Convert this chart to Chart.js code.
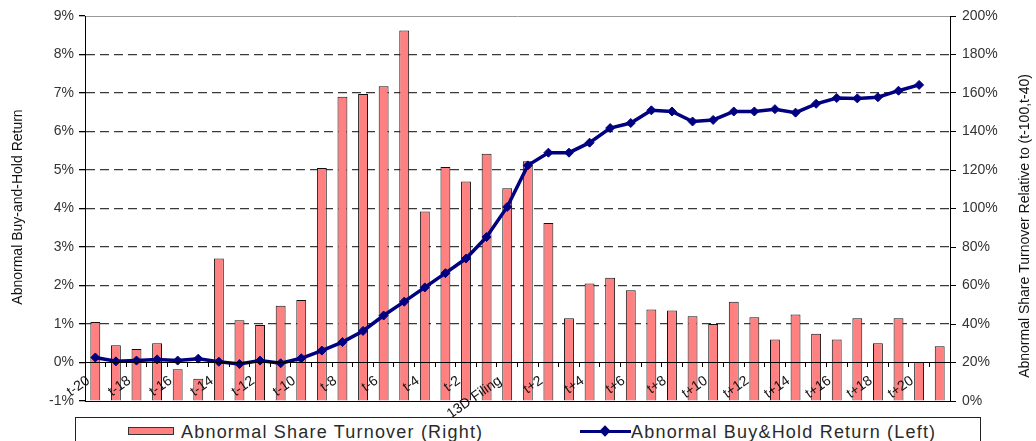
<!DOCTYPE html>
<html>
<head>
<meta charset="utf-8">
<script src="https://cdn.jsdelivr.net/npm/chart.js@4.4.1/dist/chart.umd.min.js"></script>
<style>
  html, body { margin: 0; padding: 0; background: #fff; }
  #wrap { position: relative; width: 1036px; height: 441px; overflow: hidden; }
  #legend {
    position: absolute; left: 75px; top: 417px; width: 904px; height: 40px;
    border: 1px solid #222; background: #fff;
    font-family: 'Liberation Sans', Arial, sans-serif; font-size: 18px; letter-spacing: 1.2px; color: #2a2a2a;
  }
  .item { position: absolute; top: 4px; white-space: nowrap; }
  .barsw { display: inline-block; width: 44px; height: 6px; background: #FF8080; border: 1px solid #333; vertical-align: middle; margin-right: 7px; position: relative; top: -2px; }
  .linesw { display: inline-block; width: 51px; height: 3px; background: #000080; vertical-align: middle; position: relative; top: -2px; }
  .linesw:after { content: ''; position: absolute; left: 21px; top: -3px; width: 8px; height: 8px; background: #000080; transform: rotate(45deg); }
</style>
</head>
<body>
<div id="wrap">
  <canvas id="chart" width="1036" height="441"></canvas>
  <div id="legend">
    <div class="item" style="left: 52px;"><span class="barsw"></span>Abnormal Share Turnover (Right)</div>
    <div class="item" style="left: 504px;"><span class="linesw"></span>Abnormal Buy&amp;Hold Return (Left)</div>
  </div>
</div>
<script>
// event window labels
const labels = [];
for (let i = 20; i >= 1; i--) labels.push('t-' + i);
labels.push('13D Filing');
for (let i = 1; i <= 21; i++) labels.push('t+' + i);

// abnormal share turnover, % of (t-100,t-40) level (right axis)
const turnover = [
  41, 29, 27, 30, 16.5, 11.5, 74, 42, 39.5, 49.5,
  52.5, 121, 158, 159.5, 163.5, 192.5, 98.5, 121.5, 114, 128.5,
  110.5, 124.5, 92.5, 43, 61, 64, 57.5, 47.5, 47, 44,
  40, 51.5, 43.5, 32, 45, 35, 32, 43, 30, 43,
  20.3, 28.5
];

// abnormal buy-and-hold return, % (left axis)
const bhar = [
  0.13, 0.03, 0.05, 0.08, 0.05, 0.10, 0.02, -0.04, 0.05, -0.02,
  0.11, 0.31, 0.53, 0.82, 1.22, 1.58, 1.95, 2.32, 2.70, 3.26,
  4.04, 5.12, 5.45, 5.45, 5.71, 6.09, 6.22, 6.55, 6.52, 6.26,
  6.30, 6.52, 6.52, 6.58, 6.49, 6.72, 6.87, 6.86, 6.89, 7.06,
  7.21, null
];

const leftTitle = 'Abnormal Buy-and-Hold Return';
const rightTitle = 'Abnormal Share Turnover Relative to (t-100,t-40)';

Chart.defaults.font.family = "'Liberation Sans', Arial, sans-serif";
Chart.defaults.color = '#333';

const axisTitles = {
  id: 'axisTitles',
  afterDraw(chart) {
    const ctx = chart.ctx;
    ctx.save();
    ctx.font = "14px 'Liberation Sans', Arial, sans-serif";
    ctx.fillStyle = '#111';
    ctx.textAlign = 'center';
    ctx.textBaseline = 'middle';
    ctx.translate(18, 207);
    ctx.rotate(-Math.PI / 2);
    ctx.fillText(leftTitle, 0, 0);
    ctx.restore();
    ctx.save();
    ctx.font = "14px 'Liberation Sans', Arial, sans-serif";
    ctx.fillStyle = '#111';
    ctx.textAlign = 'center';
    ctx.textBaseline = 'middle';
    ctx.translate(1025, 226);
    ctx.rotate(-Math.PI / 2);
    ctx.fillText(rightTitle, 0, 0);
    ctx.restore();
  }
};

new Chart(document.getElementById('chart'), {
  type: 'bar',
  data: {
    labels: labels,
    datasets: [
      {
        type: 'line',
        label: 'Abnormal Buy&Hold Return (Left)',
        data: bhar,
        yAxisID: 'y',
        borderColor: '#000080',
        backgroundColor: '#000080',
        borderWidth: 3.5,
        pointStyle: 'rectRot',
        pointRadius: 4.5,
        pointBorderWidth: 1,
        tension: 0,
        order: 0
      },
      {
        label: 'Abnormal Share Turnover (Right)',
        data: turnover,
        yAxisID: 'y1',
        backgroundColor: '#FF8080',
        borderColor: '#111',
        borderWidth: 1,
        categoryPercentage: 1,
        barPercentage: 0.48,
        order: 1
      }
    ]
  },
  options: {
    responsive: false,
    animation: false,
    layout: { padding: { top: 16, bottom: 40, left: 0, right: 0 } },
    plugins: {
      legend: { display: false },
      tooltip: { enabled: false }
    },
    scales: {
      x: {
        position: { y: 0 },
        border: { color: '#000', width: 1, z: 1 },
        grid: { offset: true, drawOnChartArea: false, drawTicks: true, tickLength: 4, tickColor: '#000', z: 1 },
        ticks: {
          z: 2,
          autoSkip: false,
          minRotation: 35,
          maxRotation: 35,
          padding: 6,
          labelOffset: -7,
          color: '#111',
          font: { size: 14 },
          callback: function (v, i) { return i % 2 === 0 ? labels[i] : ''; }
        }
      },
      y: {
        position: 'left',
        min: -1,
        max: 9,
        ticks: { stepSize: 1, padding: 5, color: '#333', font: { size: 14 }, callback: v => v + '%' },
        border: { color: '#000', width: 1, dash: [9, 5] },
        grid: {
          color: c => (c.tick.value === 0 || c.tick.value === 9 || c.tick.value === -1) ? 'rgba(0,0,0,0)' : '#3a3a3a',
          lineWidth: 1.3,
          tickLength: 6,
          tickColor: '#000'
        },
        afterFit: s => { s.width = 85; }
      },
      y1: {
        position: 'right',
        min: 0,
        max: 200,
        ticks: { stepSize: 20, padding: 6, color: '#333', font: { size: 14 }, callback: v => v + '%' },
        border: { color: '#000', width: 1 },
        grid: {
          color: c => c.tick.value === 200 ? '#999' : (c.tick.value === 0 ? '#000' : 'rgba(0,0,0,0)'),
          lineWidth: 1,
          tickLength: 6,
          tickColor: '#000'
        },
        afterFit: s => { s.width = 86; }
      }
    }
  },
  plugins: [axisTitles]
});
</script>
</body>
</html>
